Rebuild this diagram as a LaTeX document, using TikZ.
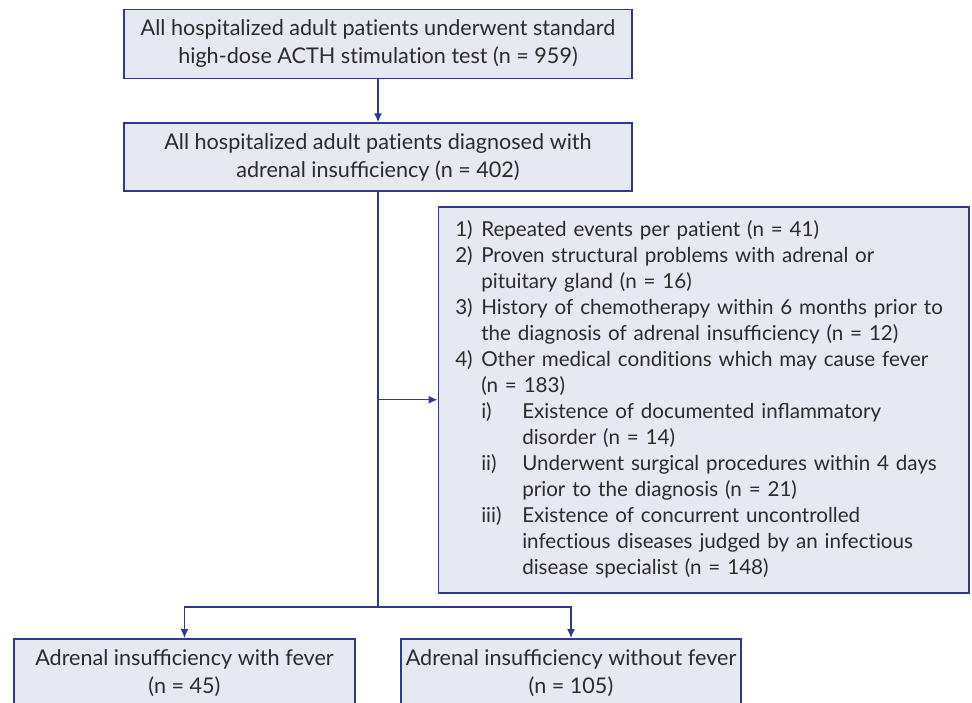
\documentclass[tikz,border=0pt]{standalone}
\usepackage{fontspec}
\setmainfont{Lato}
\usetikzlibrary{arrows.meta}
\definecolor{boxfill}{HTML}{E6E9F1}
\definecolor{boxline}{HTML}{2E3A8E}
\definecolor{txtgray}{HTML}{2B2B2B}
\newcommand{\itemlbl}[1]{\makebox[13pt][l]{#1}}
\newcommand{\subitemlbl}[1]{\hspace*{13pt}\makebox[20.5pt][l]{#1}}
\newcommand{\subindent}{\hspace*{33.5pt}}
\newcommand{\tI}{t\kern0pt i}

\begin{document}
\begin{tikzpicture}[x=0.5pt,y=-0.5pt]
  \tikzstyle{stage}=[draw=boxline, fill=boxfill, line width=0.75pt, text=txtgray, inner sep=0pt, align=center, font=\fontsize{10.8}{14}\selectfont]
  \tikzstyle{flow}=[draw=boxline, line width=0.65pt, -{Latex[length=4.5pt,width=4pt]}]
  \useasboundingbox (0,0) rectangle (972,702);
  \clip (0,0) rectangle (972,702);
  \node[stage, minimum width=254pt, minimum height=34.5pt] (screen) at (378,44)
    {All hospitalized adult pa\tI ents underwent standard\\high-dose ACTH s\tI mula\tI on test (n = 959)};
  \node[stage, minimum width=254pt, minimum height=34pt] (diag) at (378,157)
    {All hospitalized adult pa\tI ents diagnosed with\\adrenal insufficiency (n = 402)};
  \node[stage, anchor=north west, minimum width=265.25pt, minimum height=193pt, text width=265.25pt, align=left, font=\fontsize{10.3}{13}\selectfont] (excl) at (437.5,206)
    {\leftskip=8.5pt
     \itemlbl{1)}Repeated events per pa\tI ent (n = 41)\\
     \itemlbl{2)}Proven structural problems with adrenal or\\
     \itemlbl{}pituitary gland (n = 16)\\
     \itemlbl{3)}History of chemotherapy within 6 months prior to\\
     \itemlbl{}the diagnosis of adrenal insufficiency (n = 12)\\
     \itemlbl{4)}Other medical condi\tI ons which may cause fever\\
     \itemlbl{}(n = 183)\\
     \subitemlbl{i)}Existence of documented inflammatory\\
     \subindent disorder (n = 14)\\
     \subitemlbl{ii)}Underwent surgical procedures within 4 days\\
     \subindent prior to the diagnosis (n = 21)\\
     \subitemlbl{iii)}Existence of concurrent uncontrolled\\
     \subindent infec\tI ous diseases judged by an infec\tI ous\\
     \subindent disease specialist (n = 148)\par};
  \node[stage, anchor=north, minimum width=170.5pt, minimum height=34.5pt] (fever) at (184.5,638)
    {Adrenal insufficiency with fever\\(n = 45)};
  \node[stage, anchor=north, minimum width=170pt, minimum height=34.5pt] (nofever) at (571,638)
    {Adrenal insufficiency without fever\\(n = 105)};
  \coordinate (split) at (378,607);
  % connectors
  \draw[flow] (screen) -- (diag);
  \draw[draw=boxline, line width=0.65pt] (diag) -- (split);
  \draw[flow] (diag.south |- excl.west) -- (excl.west);
  \draw[flow] (split) -| (fever.north);
  \draw[flow] (split) -| (nofever.north);
\end{tikzpicture}
\end{document}
